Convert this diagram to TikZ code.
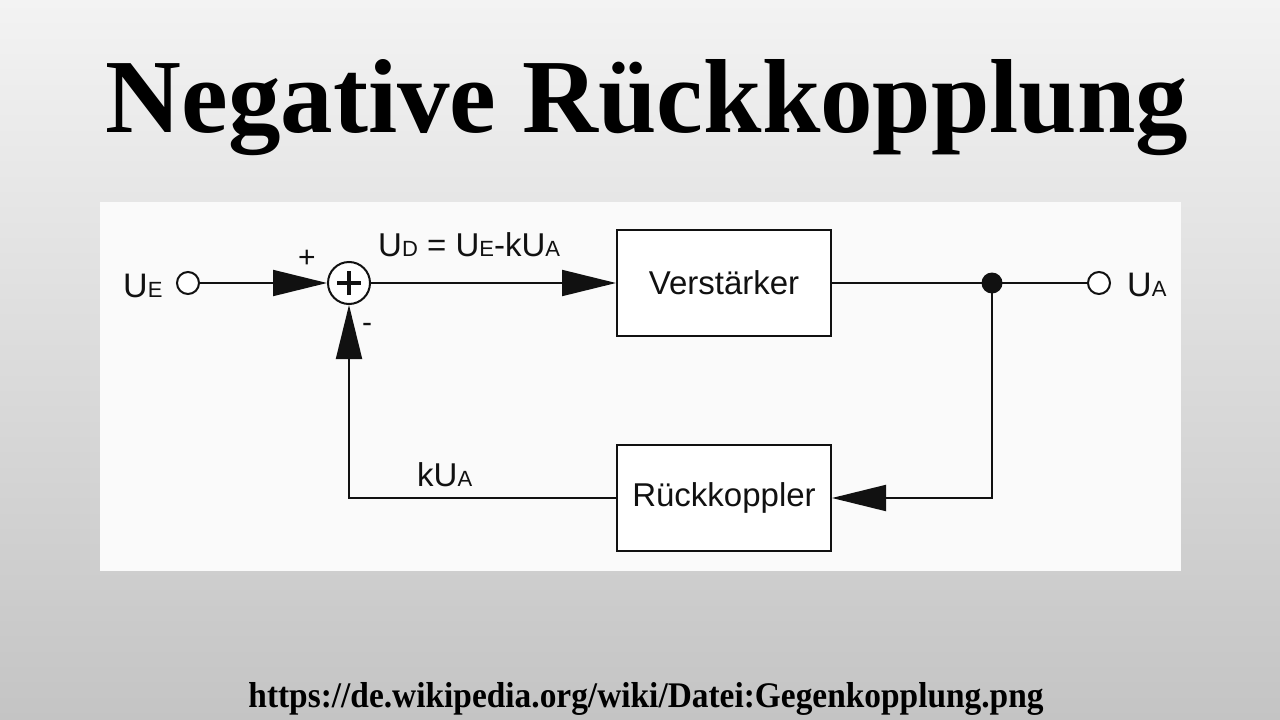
\documentclass[tikz,border=0pt]{standalone}
\usepackage{fontspec}
\setmainfont{Liberation Serif}
\setsansfont{Liberation Sans}
\usetikzlibrary{arrows.meta}
\newcommand{\sbs}[1]{{\fontsize{22}{22}\selectfont #1}}
\definecolor{bgtop}{HTML}{F3F3F3}
\definecolor{bgmid}{HTML}{E6E6E6}
\definecolor{bgbot}{HTML}{C4C4C4}
\definecolor{ink}{HTML}{111111}
\begin{document}
\begin{tikzpicture}[x=1pt,y=-1pt,
  wire/.style={line width=2pt, draw=ink},
  tri/.style={-{Triangle[length=54pt,width=26pt]}},
  blk/.style={draw=ink, line width=2pt, minimum width=214pt, minimum height=106pt,
    font=\sffamily\fontsize{33}{33}\selectfont, text=ink, fill=white, inner sep=0pt},
  port/.style={circle, draw=ink, line width=2pt, minimum size=22pt, inner sep=0pt, fill=white},
  lbl/.style={font=\sffamily\fontsize{33}{33}\selectfont, text=ink, anchor=base west, inner sep=0pt},
  sign/.style={font=\sffamily\fontsize{30}{30}\selectfont, text=ink, inner sep=0pt}
]
\useasboundingbox (0,0) rectangle (1280,720);
\shade[top color=bgtop, middle color=bgmid, bottom color=bgbot] (0,0) rectangle (1280,720);
\fill[white!98!black] (100,202) rectangle (1181,571);

% title and source
\node[anchor=base, inner sep=0pt] (title) at (647,132)
  {\resizebox{1082pt}{73pt}{\bfseries Negative Rückkopplung}};
\node[anchor=base, inner sep=0pt] (url) at (646,707)
  {\resizebox{795pt}{25pt}{\bfseries https://de.wikipedia.org/wiki/Datei:Gegenkopplung.png}};

% nodes
\node[port] (in) at (188,283) {};
\node[circle, draw=ink, line width=2pt, minimum size=42pt, inner sep=0pt, fill=white] (sum) at (349,283) {};
\draw[ink, line width=3.5pt] ([xshift=-12pt]sum.center) -- ([xshift=12pt]sum.center);
\draw[ink, line width=3.5pt] ([yshift=-12pt]sum.center) -- ([yshift=12pt]sum.center);
\node[blk] (verst) at (724,283) {Verstärker};
\node[blk] (rueck) at (724,498) {Rückkoppler};
\node[circle, fill=ink, minimum size=21pt, inner sep=0pt] (dot) at (992,283) {};
\node[port] (out) at (1099,283) {};

% connectors
\draw[wire, tri] (in.east) -- (sum.west);
\draw[wire, tri] (sum.east) -- (verst.west);
\draw[wire] (verst.east) -- (dot.center) -- (out.west);
\draw[wire, tri] (dot.center) |- (rueck.east);
\draw[wire, tri] (rueck.west) -| (sum.south);

% labels
\node[lbl, font=\sffamily\fontsize{34}{34}\selectfont] (ue) at (123,297) {U\sbs{E}};
\node[lbl, font=\sffamily\fontsize{34}{34}\selectfont] (ua) at (1127,296) {U\sbs{A}};
\node[lbl] (ud) at (378,256) {U\sbs{D} = U\sbs{E}-kU\sbs{A}};
\node[lbl] (kua) at (417,486) {kU\sbs{A}};
\node[sign] (plus) at (307,259) {+};
\node[sign] (minus) at (367,328) {-};
\end{tikzpicture}
\end{document}
